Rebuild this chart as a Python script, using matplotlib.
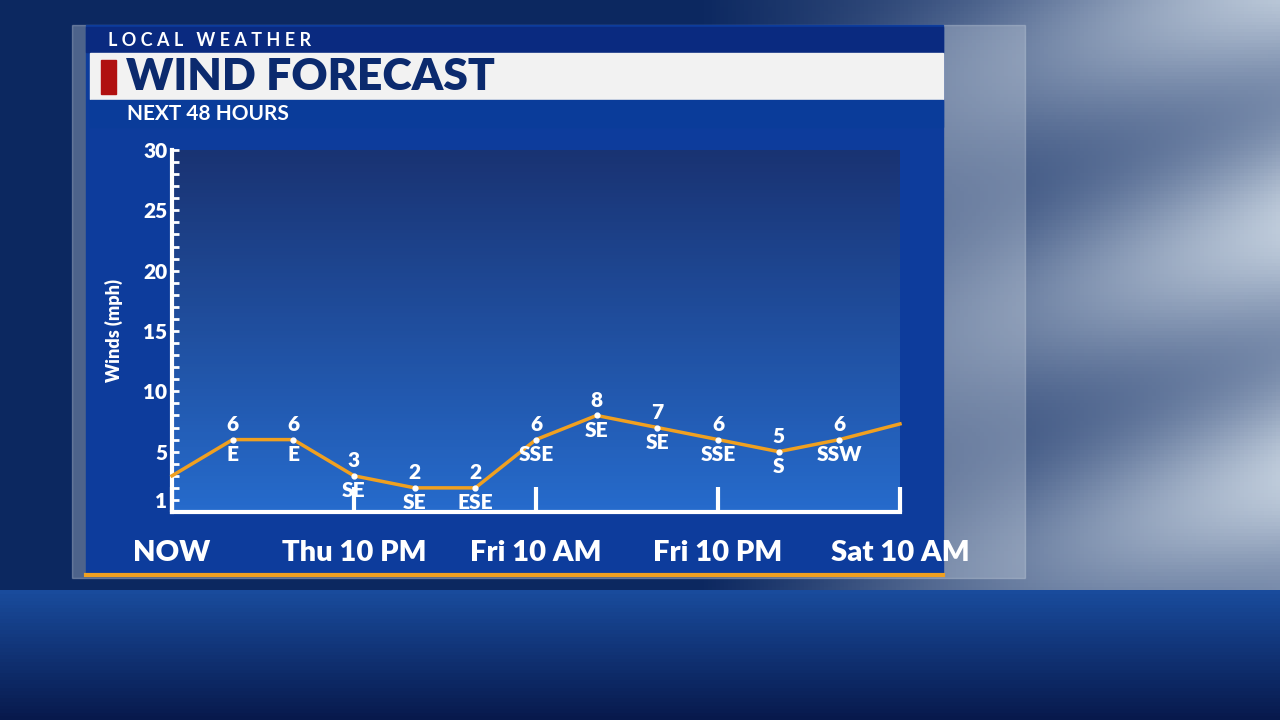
import matplotlib.pyplot as plt
import numpy as np
from matplotlib.patches import Rectangle

plt.rcParams['font.family'] = ['Lato', 'DejaVu Sans']

# data (hours from now, winds in mph, direction)
hours = [0, 4, 8, 12, 16, 20, 24, 28, 32, 36, 40, 44, 48]
winds = [3, 6, 6, 3, 2, 2, 6, 8, 7, 6, 5, 6, 7.3]
dirs = ['', 'E', 'E', 'SE', 'SE', 'ESE', 'SSE', 'SE', 'SE', 'SSE', 'S', 'SSW', '']
show_lbl = [False] + [True] * 11 + [False]
xticks = [0, 12, 24, 36, 48]
xlabels = ['NOW', 'Thu 10 PM', 'Fri 10 AM', 'Fri 10 PM', 'Sat 10 AM']
yticks = [1, 5, 10, 15, 20, 25, 30]

W, H = 1280, 720
fig = plt.figure(figsize=(12.8, 7.2), dpi=100)

def px(x0, y0, x1, y1):
    return [x0 / W, 1 - y1 / H, (x1 - x0) / W, (y1 - y0) / H]

# background
bg = fig.add_axes([0, 0, 1, 1])
bg.set_axis_off()
yy, xx = np.mgrid[0:1:200j, 0:1:320j]
img = np.zeros((200, 320, 3))
cloud = np.clip((xx - 0.55) * 2.2, 0, 1) * (0.6 + 0.4 * np.sin(yy * 9 + xx * 5) ** 2) * (yy < 0.82)
base = np.array([0.05, 0.16, 0.38])
img[:] = base
for c, v in enumerate([0.75, 0.8, 0.86]):
    img[..., c] = base[c] * (1 - cloud) + v * cloud
floor = yy > 0.82
fy = (yy - 0.82) / 0.18
for c, (a, b) in enumerate([(0.10, 0.03), (0.30, 0.10), (0.62, 0.30)]):
    img[..., c][floor] = (a + (b - a) * fy)[floor]
bg.imshow(img, extent=[0, 1, 0, 1], aspect='auto', origin='upper')
bg.set_xlim(0, 1); bg.set_ylim(0, 1)

ov = fig.add_axes([0, 0, 1, 1])
ov.set_axis_off()
ov.set_xlim(0, W); ov.set_ylim(H, 0)
ov.add_patch(Rectangle((72, 25), 953, 553, color='#c8d2de', alpha=0.35))
ov.add_patch(Rectangle((86, 25), 857, 550, color='#0d3c9c'))
ov.add_patch(Rectangle((86, 27), 857, 25, color='#0a2a80'))
ov.add_patch(Rectangle((90, 53), 853, 46, color='#f2f2f2'))
ov.add_patch(Rectangle((101, 60), 15, 34, color='#b01010'))
ov.add_patch(Rectangle((90, 100), 853, 27, color='#0a3c9a'))
ov.plot([86, 943], [575, 575], color='#f0a020', lw=3)
ov.text(108, 40, 'L O C A L   W E A T H E R', color='white', fontsize=13, fontweight='bold', va='center')
ov.text(126, 77, 'WIND FORECAST', color='#0b2a6e', fontsize=32, fontweight='heavy', va='center')
ov.text(127, 114, 'NEXT 48 HOURS', color='white', fontsize=15, fontweight='bold', va='center')

# chart area gradient
ga = fig.add_axes(px(172, 150, 900, 512))
ga.set_axis_off()
g = np.linspace(0, 1, 100)[:, None]
grad = np.zeros((100, 1, 3))
grad[..., 0] = 0.10 + 0.05 * g
grad[..., 1] = 0.20 + 0.22 * g
grad[..., 2] = 0.45 + 0.35 * g
ga.imshow(grad, extent=[0, 1, 0, 1], aspect='auto', origin='upper')

ax = fig.add_axes(px(172, 150, 900, 512))
ax.patch.set_alpha(0)
ax.plot(hours, winds, color='#f0a020', lw=2.5, clip_on=False, zorder=3)
ax.scatter(hours[1:-1], winds[1:-1], s=12, color='white', zorder=4)
for h, w, d, s in zip(hours, winds, dirs, show_lbl):
    if not s:
        continue
    ax.text(h, w + 0.45, str(int(w)), color='white', fontsize=15, fontweight='heavy', ha='center', va='bottom')
    ax.text(h, w - 0.45, d, color='white', fontsize=15, fontweight='heavy', ha='center', va='top')
ax.set_xlim(0, 48)
ax.set_ylim(0, 30)
for sp in ['top', 'right']:
    ax.spines[sp].set_visible(False)
for sp in ['left', 'bottom']:
    ax.spines[sp].set_color('white')
    ax.spines[sp].set_linewidth(3)
ax.set_yticks(yticks)
ax.set_yticklabels([str(t) for t in yticks], color='white', fontsize=15, fontweight='heavy')
ax.set_yticks(np.arange(0, 31, 1), minor=True)
ax.tick_params(axis='y', which='both', direction='in', colors='white', length=5, width=2)
ax.set_xticks(xticks)
ax.set_xticklabels(xlabels, color='white', fontsize=21, fontweight='heavy')
ax.tick_params(axis='x', direction='in', colors='white', length=18, width=3, pad=20)
ax.set_ylabel('Winds (mph)', color='white', fontsize=13, fontweight='heavy', labelpad=14)

fig.savefig('out.png', dpi=100)
